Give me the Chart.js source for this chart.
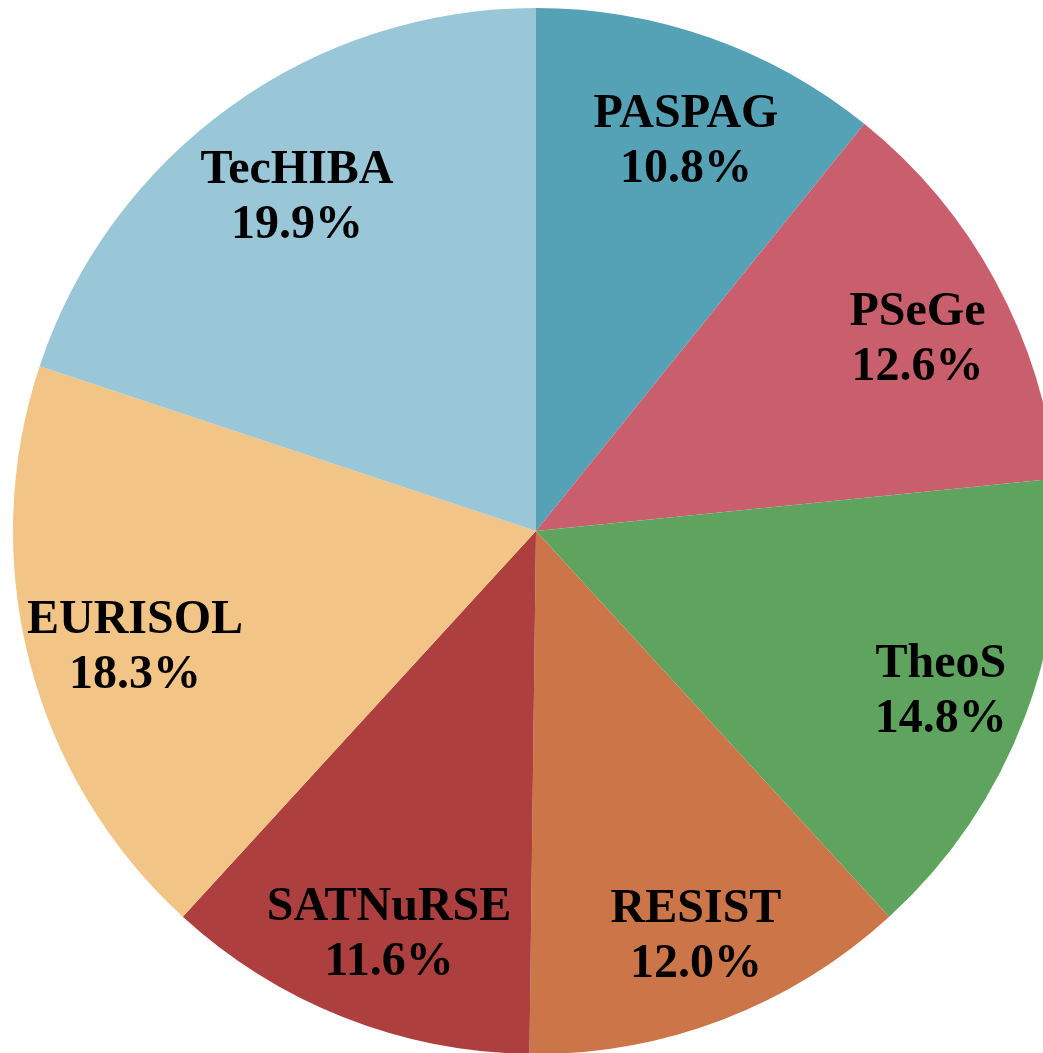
<!DOCTYPE html>
<html>
<head>
<meta charset="utf-8">
<script src="https://cdn.jsdelivr.net/npm/chart.js@4/dist/chart.umd.min.js"></script>
<style>
  html, body { margin: 0; padding: 0; background: #fff; overflow: hidden; width: 1043px; height: 1053px; }
  #wrap { position: absolute; left: 13px; top: 8px; width: 1046px; height: 1046px; }
</style>
</head>
<body>
<div id="wrap"><canvas id="pie" width="1046" height="1046"></canvas></div>
<script>
// slices, clockwise from 12 o'clock
const labels = ['PASPAG', 'PSeGe', 'TheoS', 'RESIST', 'SATNuRSE', 'EURISOL', 'TecHIBA'];
const shares = [10.8, 12.6, 14.8, 12.0, 11.6, 18.3, 19.9];
const colors = ['#55a1b5', '#c95f6d', '#5ea45f', '#cb7548', '#ae3f3f', '#f2c486', '#9ac7d7'];

// draws "name / xx.x%" inside each slice
const sliceLabels = {
    id: 'sliceLabels',
    afterDatasetsDraw(chart) {
        const ctx = chart.ctx;
        const meta = chart.getDatasetMeta(0);
        ctx.save();
        ctx.fillStyle = '#000';
        ctx.font = 'bold 48px "Liberation Serif", "Times New Roman", serif';
        ctx.textAlign = 'center';
        ctx.textBaseline = 'middle';
        meta.data.forEach((arc, i) => {
            const p = arc.getProps(['x', 'y', 'startAngle', 'endAngle', 'outerRadius'], true);
            const mid = (p.startAngle + p.endAngle) / 2;
            const r = p.outerRadius * 0.81;
            const x = p.x + Math.cos(mid) * r + 9;
            const y = p.y + Math.sin(mid) * r + 10;
            ctx.fillText(labels[i], x, y - 27);
            ctx.fillText(shares[i].toFixed(1) + '%', x, y + 28);
        });
        ctx.restore();
    }
};

new Chart(document.getElementById('pie'), {
    type: 'pie',
    data: {
        labels: labels,
        datasets: [{
            data: shares,
            backgroundColor: colors,
            borderWidth: 0
        }]
    },
    options: {
        responsive: false,
        animation: false,
        layout: { padding: 0 },
        plugins: {
            legend: { display: false },
            tooltip: { enabled: false }
        }
    },
    plugins: [sliceLabels]
});
</script>
</body>
</html>
